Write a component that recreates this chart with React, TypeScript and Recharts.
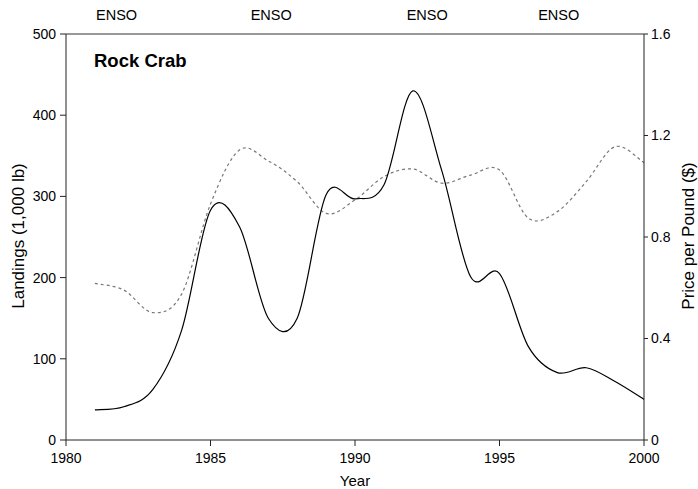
import { LineChart, Line, XAxis, YAxis } from 'recharts';

const years = [1981, 1982, 1983, 1984, 1985, 1986, 1987, 1988, 1989, 1990, 1991, 1992, 1993, 1994, 1995, 1996, 1997, 1998, 1999, 2000];
const landings = [37, 41, 62, 135, 283, 263, 150, 150, 302, 297, 314, 430, 332, 201, 205, 115, 83, 89, 72, 50];
const price = [0.617, 0.591, 0.502, 0.575, 0.93, 1.143, 1.1, 1.018, 0.893, 0.946, 1.038, 1.068, 1.012, 1.044, 1.064, 0.874, 0.9, 1.018, 1.156, 1.093];

const yearTicks = [1980, 1985, 1990, 1995, 2000];
const landingTicks = [0, 100, 200, 300, 400, 500];
const priceTicks = [0, 0.4, 0.8, 1.2, 1.6];
const ensoYears = [1981.75, 1987.1, 1992.5, 1997.05];

const data = years.map((year, i) => ({ year, landings: landings[i], price: price[i] }));

// smoothed line like the spreadsheet one (catmull-rom through each point)
const smooth = (context: any) => {
  let pts: number[][] = [];
  return {
    areaStart() {},
    areaEnd() {},
    lineStart() {
      pts = [];
    },
    point(x: number, y: number) {
      pts.push([+x, +y]);
    },
    lineEnd() {
      if (!pts.length) return;
      context.moveTo(pts[0][0], pts[0][1]);
      for (let i = 0; i < pts.length - 1; i++) {
        const p0 = pts[i - 1] || pts[i];
        const p1 = pts[i];
        const p2 = pts[i + 1];
        const p3 = pts[i + 2] || p2;
        context.bezierCurveTo(
          p1[0] + (p2[0] - p0[0]) / 6,
          p1[1] + (p2[1] - p0[1]) / 6,
          p2[0] - (p3[0] - p1[0]) / 6,
          p2[1] - (p3[1] - p1[1]) / 6,
          p2[0],
          p2[1]
        );
      }
    },
  };
};

const font = { fontFamily: '"Liberation Sans", Arial, sans-serif', fontSize: 14, fill: '#000' };

const EnsoTick = (props: any) => (
  <text x={props.x} y={20} textAnchor="middle" {...font} fontSize={14.5}>
    ENSO
  </text>
);

const sideLabel = (text: string, x: number, angle: number) => () =>
  (
    <text
      transform={`translate(${x},236) rotate(${angle})`}
      textAnchor="middle"
      dominantBaseline="central"
      {...font}
      fontSize={17}
    >
      {text}
    </text>
  );

const App = () => {
  return (
    <div style={{ position: 'absolute', left: 0, top: 0, width: 698, height: 489 }}>
      <LineChart width={698} height={489} data={data} margin={{ top: 4, right: 10, bottom: 0, left: 16 }}>
        <XAxis
          xAxisId="top"
          orientation="top"
          dataKey="year"
          type="number"
          domain={[1980, 2000]}
          ticks={ensoYears}
          tick={<EnsoTick />}
          tickLine={false}
          stroke="#333"
          height={30}
        />
        <XAxis
          dataKey="year"
          type="number"
          domain={[1980, 2000]}
          ticks={yearTicks}
          tick={font}
          tickSize={6}
          tickMargin={7}
          stroke="#222"
          height={49}
          label={{ value: 'Year', position: 'insideBottom', offset: 3, ...font, fontSize: 15 }}
        />
        <YAxis
          yAxisId="left"
          domain={[0, 500]}
          ticks={landingTicks}
          tick={font}
          tickSize={6}
          tickMargin={4}
          stroke="#222"
          width={50}
          label={{ content: sideLabel('Landings (1,000 lb)', 18, -90) }}
        />
        <YAxis
          yAxisId="right"
          orientation="right"
          domain={[0, 1.6]}
          ticks={priceTicks}
          tickFormatter={(v: number) => String(v)}
          tick={font}
          tickSize={4}
          tickMargin={3}
          stroke="#222"
          width={44}
          label={{ content: sideLabel('Price per Pound ($)', 688, -90) }}
        />
        <Line
          yAxisId="right"
          dataKey="price"
          type={smooth as any}
          stroke="#777"
          strokeWidth={1.2}
          strokeDasharray="3 3"
          dot={false}
          isAnimationActive={false}
        />
        <Line
          yAxisId="left"
          dataKey="landings"
          type={smooth as any}
          stroke="#000"
          strokeWidth={1.2}
          dot={false}
          isAnimationActive={false}
        />
      </LineChart>
      <div
        style={{
          position: 'absolute',
          left: 94,
          top: 50,
          fontFamily: '"Liberation Sans", Arial, sans-serif',
          fontSize: 18.5,
          fontWeight: 'bold',
          lineHeight: '22px',
        }}
      >
        Rock Crab
      </div>
    </div>
  );
};

export default App;
